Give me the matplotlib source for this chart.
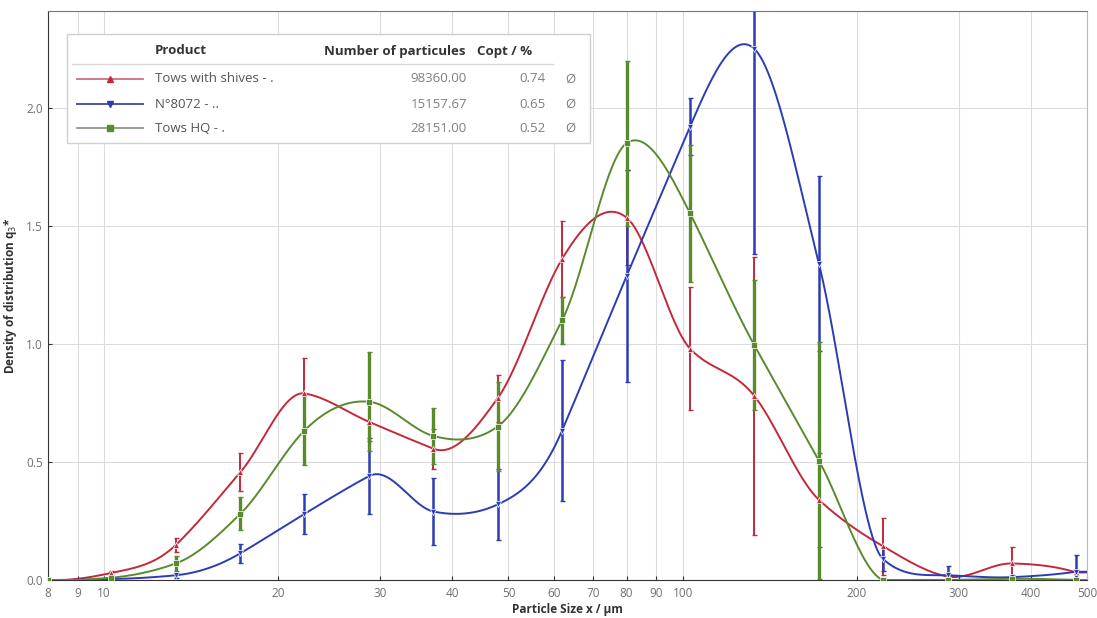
# -*- coding: utf-8 -*-
# Densité de distribution q3* en fonction de la taille des particules
import matplotlib
matplotlib.use('Agg')
import matplotlib.pyplot as plt
from matplotlib.patches import Rectangle
from matplotlib.lines import Line2D
import numpy as np

# --- DONNÉES ---
taille_um = [8, 10.3, 13.3, 17.2, 22.2, 28.7, 37.1, 47.9, 61.9, 80,
             103, 133, 172, 222, 287, 371, 479]

tows_shives = [0.0, 0.03, 0.148, 0.456, 0.79, 0.67, 0.556, 0.77, 1.36, 1.535,
               0.98, 0.78, 0.34, 0.143, 0.015, 0.07, 0.032]
tows_shives_err = [0.0, 0.01, 0.03, 0.08, 0.15, 0.08, 0.085, 0.1, 0.16, 0.2,
                   0.26, 0.59, 0.2, 0.12, 0.01, 0.07, 0.01]

n8072 = [0.0, 0.004, 0.02, 0.113, 0.28, 0.44, 0.29, 0.32, 0.633, 1.287,
         1.92, 2.25, 1.34, 0.089, 0.02, 0.012, 0.035]
n8072_err = [0.0, 0.004, 0.01, 0.04, 0.085, 0.16, 0.14, 0.15, 0.3, 0.45,
             0.12, 0.87, 0.37, 0.05, 0.04, 0.01, 0.07]

tows_hq = [0.0, 0.01, 0.07, 0.28, 0.633, 0.755, 0.61, 0.65, 1.10, 1.85,
           1.553, 0.995, 0.506, 0.0, 0.0, 0.005, 0.0]
tows_hq_err = [0.0, 0.01, 0.03, 0.07, 0.145, 0.21, 0.12, 0.19, 0.1, 0.35,
               0.29, 0.275, 0.5, 0.0, 0.0, 0.0, 0.0]

noms = ['Tows with shives - .', 'N°8072 - ..', 'Tows HQ - .']
nb_particules = ['98360.00', '15157.67', '28151.00']
copt = ['0.74', '0.65', '0.52']

x_ticks = [8, 9, 10, 20, 30, 40, 50, 60, 70, 80, 90, 100, 200, 300, 400, 500]

plt.rcParams['font.family'] = ['Open Sans', 'DejaVu Sans']


def spline_akima(x, y, xs):
    """Interpolation d'Akima (en log x) pour tracer la courbe lissée."""
    x = np.asarray(x, float)
    y = np.asarray(y, float)
    n = len(x)
    h = np.diff(x)
    m = np.diff(y) / h
    # pentes fictives aux extrémités
    mm = np.concatenate([[3 * m[0] - 2 * m[1], 2 * m[0] - m[1]], m,
                         [2 * m[-1] - m[-2], 3 * m[-1] - 2 * m[-2]]])
    t = np.zeros(n)
    for i in range(n):
        w1 = abs(mm[i + 3] - mm[i + 2])
        w2 = abs(mm[i + 1] - mm[i])
        if w1 + w2 < 1e-12:
            t[i] = 0.5 * (mm[i + 1] + mm[i + 2])
        else:
            t[i] = (w1 * mm[i + 1] + w2 * mm[i + 2]) / (w1 + w2)
    ys = np.full(len(xs), y[-1])
    for i in range(n - 1):
        sel = (xs >= x[i]) & (xs <= x[i + 1])
        s = (xs[sel] - x[i]) / h[i]
        h00 = 2 * s ** 3 - 3 * s ** 2 + 1
        h10 = s ** 3 - 2 * s ** 2 + s
        h01 = -2 * s ** 3 + 3 * s ** 2
        h11 = s ** 3 - s ** 2
        ys[sel] = (h00 * y[i] + h10 * h[i] * t[i] + h01 * y[i + 1]
                   + h11 * h[i] * t[i + 1])
    return ys


fig = plt.figure(figsize=(10.97, 6.18), dpi=100)
ax = fig.add_axes([48 / 1097, 38 / 618, 1039 / 1097, 569 / 618])

series = [
    (tows_shives, tows_shives_err, '#c4283a', '^', 1.4, '#cc7080'),
    (n8072, n8072_err, '#2c3cb4', 'v', 1.8, '#3848a0'),
    (tows_hq, tows_hq_err, '#5a8a2e', 's', 2.4, '#8c9c84'),
]

logx = np.log10(taille_um)
xs = np.linspace(logx[0], np.log10(500), 800)

for valeurs, erreurs, couleur, marqueur, ep, _ in series:
    ys = np.clip(spline_akima(logx, valeurs, xs), 0, None)
    ax.plot(10 ** xs, ys, color=couleur, lw=1.4, zorder=3)
    ax.errorbar(taille_um, valeurs, yerr=erreurs, fmt='none', ecolor=couleur,
                elinewidth=ep, capsize=1.8, capthick=1, zorder=2)
    ax.plot(taille_um, valeurs, linestyle='none', marker=marqueur, ms=5,
            color=couleur, mec='white', mew=0.5, zorder=4)

# --- AXES ---
ax.set_xscale('log')
ax.set_xlim(8, 500)
ax.set_ylim(0, 2.41)
ax.set_xticks(x_ticks)
ax.set_xticklabels([str(t) for t in x_ticks])
ax.xaxis.set_minor_locator(matplotlib.ticker.NullLocator())
ax.set_yticks([0, 0.5, 1.0, 1.5, 2.0])
ax.set_yticklabels(['0.0', '0.5', '1.0', '1.5', '2.0'])
ax.tick_params(direction='in', length=3, color='#333333', labelcolor='#707070',
               labelsize=8.5)
ax.tick_params(axis='x', pad=5)
ax.grid(True, color='#dcdcdc', lw=0.8)
ax.set_axisbelow(True)
for cote in ['left', 'bottom']:
    ax.spines[cote].set_color('#333333')
ax.spines['top'].set_color('#777777')
ax.spines['right'].set_color('#bbbbbb')

ax.set_xlabel('Particle Size x / µm', fontsize=8.5, fontweight='bold',
              color='#333333', labelpad=2)
ax.set_ylabel('Density of distribution q$_3$*', fontsize=8.5,
              fontweight='bold', color='#333333', labelpad=5)

# --- LÉGENDE EN TABLEAU ---
def fx(px):
    return px / 1097


def fy(py):
    return 1 - py / 618


fig.add_artist(Rectangle((fx(67), fy(143)), fx(590) - fx(67), fy(34) - fy(143),
                         transform=fig.transFigure, facecolor='white',
                         edgecolor='#d0d0d0', lw=1, zorder=10))
fig.add_artist(Line2D([fx(72), fx(553)], [fy(64), fy(64)],
                      transform=fig.transFigure, color='#d8d8d8', lw=1, zorder=11))

entete = dict(fontsize=9.5, fontweight='bold', color='#333333', va='center', zorder=12)
fig.text(fx(155), fy(51), 'Product', ha='left', **entete)
fig.text(fx(465), fy(51), 'Number of particules', ha='right', **entete)
fig.text(fx(477), fy(51), 'Copt / %', ha='left', **entete)

lignes_y = [79, 104, 128]
for i, (valeurs, erreurs, couleur, marqueur, ep, couleur_leg) in enumerate(series):
    y = fy(lignes_y[i])
    fig.add_artist(Line2D([fx(77), fx(143)], [y, y], transform=fig.transFigure,
                          color=couleur_leg, lw=1.3, zorder=12))
    fig.add_artist(Line2D([fx(110)], [y], transform=fig.transFigure, marker=marqueur,
                          ms=4, color=couleur, linestyle='none', zorder=13))
    fig.text(fx(155), y, noms[i], fontsize=9.5, color='#555555', va='center', zorder=12)
    fig.text(fx(467), y, nb_particules[i], fontsize=9.5, color='#808080',
             ha='right', va='center', zorder=12)
    fig.text(fx(546), y, copt[i], fontsize=9.5, color='#808080',
             ha='right', va='center', zorder=12)
    fig.text(fx(570), y, 'Ø', fontsize=9.5, color='#808080',
             ha='center', va='center', zorder=12)

plt.savefig('out.png', dpi=100)
